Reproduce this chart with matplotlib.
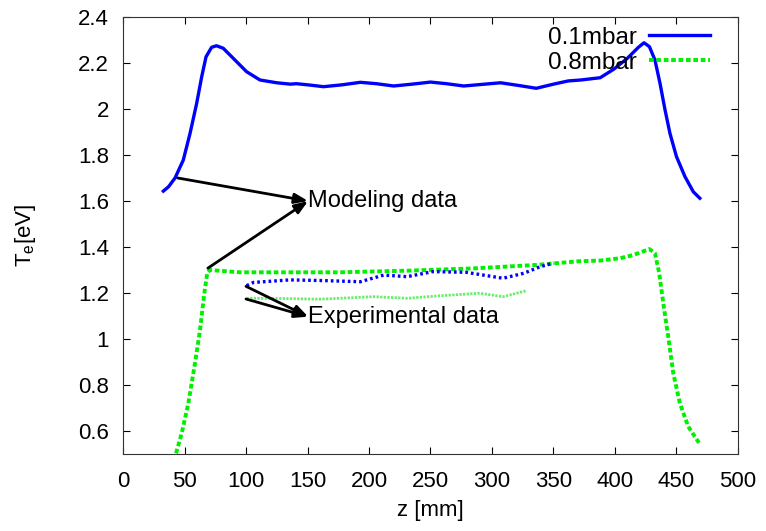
import numpy as np
import matplotlib
matplotlib.use("Agg")
import matplotlib.pyplot as plt
from matplotlib.ticker import FormatStrFormatter, MultipleLocator

plt.rcParams['font.family'] = ['Liberation Sans', 'DejaVu Sans']

# modelled Te, 0.1 mbar
z_mod_01 = [32.8, 37, 42.3, 49, 54.5, 59.9, 64, 67.5, 72, 76, 81.5, 89.7, 100.5, 111.4,
            125, 136, 141, 152, 163, 178, 193, 206, 220, 235, 250, 263, 277, 292,
            307, 322, 336, 350, 362, 372, 388, 399, 410, 419, 423.6, 428, 432.5,
            436.6, 440.7, 444.7, 450, 456.9, 463.7, 469]
te_mod_01 = [1.643, 1.662, 1.700, 1.778, 1.894, 2.025, 2.141, 2.227, 2.268, 2.275, 2.264, 2.22,
             2.162, 2.126, 2.114, 2.108, 2.110, 2.104, 2.097, 2.105, 2.116, 2.110, 2.100,
             2.108, 2.117, 2.110, 2.100, 2.107, 2.114, 2.102, 2.090, 2.108, 2.122, 2.126,
             2.136, 2.173, 2.22, 2.268, 2.288, 2.271, 2.213, 2.112, 1.996, 1.894, 1.793,
             1.706, 1.64, 1.612]

# modelled Te, 0.8 mbar
z_mod_08 = [43.1, 47.7, 53.1, 58.5, 62.6, 66.1, 68.5, 70.7, 95, 176, 231, 285, 336,
            370.5, 387.8, 404, 414.9, 428, 432.5, 436, 439.3, 443.3, 447.4,
            452.8, 459.6, 468.5]
te_mod_08 = [0.503, 0.59, 0.72, 0.894, 1.039, 1.198, 1.288, 1.30, 1.290, 1.290, 1.297,
             1.307, 1.322, 1.338, 1.341, 1.351, 1.365, 1.391, 1.373, 1.286,
             1.155, 1.01, 0.851, 0.72, 0.619, 0.547]

# experimental Te
z_exp_01 = [100.5, 106, 136, 163, 193, 212, 231, 252, 279, 309, 326, 339, 350]
te_exp_01 = [1.232, 1.246, 1.257, 1.254, 1.249, 1.278, 1.271, 1.293, 1.290, 1.264,
             1.286, 1.314, 1.330]
z_exp_08 = [100.5, 130, 160, 204, 231, 258, 290, 309, 328]
te_exp_08 = [1.177, 1.176, 1.173, 1.184, 1.177, 1.188, 1.199, 1.184, 1.210]

fig = plt.figure(figsize=(7.66, 5.31), dpi=100)
ax = fig.add_axes([0.1606, 0.145, 0.8028, 0.823])

ax.plot(z_mod_01, te_mod_01, color='#0000ff', lw=2.4, label='0.1mbar')
ax.plot(z_mod_08, te_mod_08, color='#00f000', lw=2.8, ls=(0, (1.2, 0.7)), label='0.8mbar')
ax.plot(z_exp_01, te_exp_01, color='#0000ff', lw=2.4, ls=(0, (0.8, 0.9)))
ax.plot(z_exp_08, te_exp_08, color='#66ee66', lw=2.0, ls=(0, (0.8, 0.5)))

arrow = dict(arrowstyle='-|>,head_length=0.8,head_width=0.3', color='black', lw=2,
             shrinkA=0, shrinkB=0)
ax.annotate('', xy=(150.5, 1.6), xytext=(44.5, 1.70), arrowprops=arrow)
ax.annotate('', xy=(150.5, 1.6), xytext=(69, 1.308), arrowprops=arrow)
ax.text(150.5, 1.6, 'Modeling data', fontsize=17, va='center', ha='left')
ax.annotate('', xy=(150.5, 1.097), xytext=(100, 1.229), arrowprops=arrow)
ax.annotate('', xy=(150.5, 1.097), xytext=(100, 1.174), arrowprops=arrow)
ax.text(150.5, 1.097, 'Experimental data', fontsize=17, va='center', ha='left')

ax.set_xlim(0, 500)
ax.set_ylim(0.5, 2.4)
ax.xaxis.set_major_locator(MultipleLocator(50))
ax.set_yticks(np.arange(0.6, 2.41, 0.2))
ax.yaxis.set_major_formatter(FormatStrFormatter('%g'))
ax.tick_params(direction='in', top=True, right=True, length=5, labelsize=16)
ax.tick_params(axis='x', pad=12)
ax.tick_params(axis='y', pad=10)
for s in ax.spines.values():
    s.set_color('#333333')
ax.set_xlabel('z [mm]', fontsize=16, labelpad=6)
ax.set_ylabel('T$_\\mathregular{e}$[eV]', fontsize=16)
ax.yaxis.set_label_coords(-0.138, 0.5)

ax.legend(loc='upper right', bbox_to_anchor=(0.9545, 0.978), frameon=False,
          markerfirst=False, fontsize=17.5, handlelength=2.5, borderaxespad=0,
          borderpad=0, labelspacing=0.12, handletextpad=0.5)

fig.savefig('out.png', dpi=100)
